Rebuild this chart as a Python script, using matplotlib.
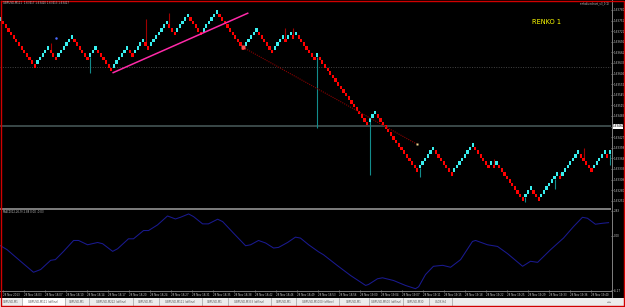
import numpy as np
import matplotlib.pyplot as plt
from matplotlib.patches import Rectangle

W, H = 625, 307
PX = 2.638   # pixels per brick column
LY = 3.6     # pixels per brick level

# renko bricks: first brick is up, then signed run lengths (bricks per leg)
first_dir = 1
runs = [-13, 5, -3, 6, -6, 3, -6, 6, -2, 4, -2, 7, -3, 5, -5, 6, -10, 5, -6, 4,
        -1, 2, -1, 1, -7, 1, -19, 3, -16, 6, -7, 8, -6, 1, -1, 1, -10, 3, -3, 7,
        -1, 7, -5, 5, -1, 1]

# wicks: brick index and level the shadow reaches
wick_idx = [19, 34, 55, 64, 108, 111, 120, 140, 159, 187, 199, 210, 212, 221, 231]
wick_end = [-6.7, -15.0, 0.0, 1.7, -2.5, -2.5, -30.3, -43.3, -43.8, -38.8, -50.8,
            -47.3, -42.9, -35.8, -40.6]

# drawn objects (brick index, level)
trend_x = [42.7, 93.7]
trend_y = [-14.9, 1.6]
proj_x = [92.0, 157.7]
proj_y = [-7.9, -34.7]
grid_level = -13.3
last_level = -29.7

price_labels = ["1.63780", "1.63751", "1.63721", "1.63692", "1.63662", "1.63633",
                "1.63604", "1.63574", "1.63545", "1.63515", "1.63486", "",
                "1.63427", "1.63398", "1.63368", "1.63339", "1.63309", "1.63280",
                "1.63251"]
last_price = "1.63460"

# oscillator in the lower pane
ind_x = [0, 2.5, 7.6, 12.5, 15.2, 19.0, 20.8, 23.9, 27.7, 29.6, 33.0, 36.8, 38.7,
         42.5, 44.4, 48.5, 50.4, 54.2, 56.1, 59.5, 63.3, 66.3, 68.2, 71.3, 73.2,
         76.6, 78.8, 82.3, 84.2, 88.3, 92.9, 94.8, 97.8, 100.5, 103.5, 105.4,
         108.8, 111.8, 113.7, 116.8, 120.5, 122.4, 127.7, 132.7, 138.4, 139.5,
         142.9, 144.8, 149.0, 153.5, 157.3, 158.5, 161.1, 164.1, 167.6, 170.6,
         174.4, 178.9, 180.1, 184.6, 188.4, 192.2, 197.9, 200.9, 203.6, 208.5,
         213.4, 217.2, 220.6, 222.5, 225.5, 228.2, 230.5]
ind_v = [-1.13, -1.58, -2.90, -4.15, -3.84, -2.79, -2.71, -1.77, -0.53, -0.53,
         -1.02, -0.76, -0.90, -1.77, -1.47, -0.34, -0.34, 0.60, 0.60, 1.24, 2.26,
         1.92, 2.11, 2.49, 2.18, 1.36, 1.36, 1.89, 1.62, 0.31, -1.13, -1.02,
         -0.53, -0.82, -1.39, -1.32, -0.76, -0.15, -0.26, -1.02, -1.81, -2.15,
         -3.39, -4.52, -5.65, -5.54, -4.89, -4.78, -5.09, -5.65, -6.02, -5.80,
         -4.41, -3.47, -3.36, -3.58, -2.71, -0.64, -0.53, -1.02, -1.21, -2.03,
         -3.47, -2.90, -3.02, -1.58, -0.26, 1.05, 2.11, 2.00, 1.32, 1.43, 1.50]
ind_ticks = [2.83, 0.00, -6.17]
ind_labels = ["2.83", "0.00", "-6.17"]

time_labels = ["28 Nov 2013", "28 Nov 18:03", "28 Nov 18:07", "28 Nov 18:10",
               "28 Nov 18:14", "28 Nov 18:17", "28 Nov 18:20", "28 Nov 18:24",
               "28 Nov 18:27", "28 Nov 18:31", "28 Nov 18:35", "28 Nov 18:38",
               "28 Nov 18:42", "28 Nov 18:46", "28 Nov 18:49", "28 Nov 18:53",
               "28 Nov 18:56", "28 Nov 19:00", "28 Nov 19:04", "28 Nov 19:07",
               "28 Nov 19:11", "28 Nov 19:15", "28 Nov 19:18", "28 Nov 19:22",
               "28 Nov 19:25", "28 Nov 19:29", "28 Nov 19:33", "28 Nov 19:36",
               "28 Nov 19:40"]

tabs = ["GBPUSD,M1", "GBPUSD,M111 (offline)", "GBPUSD,M1", "GBPUSD,M222 (offline)",
        "GBPUSD,M1", "GBPUSD,M111 (offline)", "GBPUSD,M1", "GBPUSD,M333 (offline)",
        "GBPUSD,M1", "GBPUSD,M1000 (offline)", "GBPUSD,M1", "GBPUSD,M500 (offline)",
        "GBPUSD,M30", "USDX,H4"]
tab_edges = [0, 22, 65, 89, 133, 159, 202, 228, 271, 296, 339, 369, 403, 429, 452]

# build brick levels from the runs
levels = [0]
dirs = [first_dir]
for r in runs:
    s = int(np.sign(r))
    for _ in range(abs(r)):
        levels.append(levels[-1] + s)
        dirs.append(s)
levels = np.array(levels)
dirs = np.array(dirs)
idx = np.arange(len(levels))


def rect(x0, y0, x1, y1):
    return [x0 / W, 1 - y1 / H, (x1 - x0) / W, (y1 - y0) / H]


fig = plt.figure(figsize=(W / 100, H / 100), dpi=100, facecolor='black')
ax = fig.add_axes(rect(0, 4, 611, 207))
ax2 = fig.add_axes(rect(0, 210, 611, 290))
for a in (ax, ax2):
    a.set_facecolor('black')
    a.set_xlim(-0.2, 611 / PX - 0.2)
    for s in a.spines.values():
        s.set_visible(False)
    a.yaxis.tick_right()
    a.tick_params(colors='#c8c8c8', labelsize=2.0, length=1.2, width=0.4, pad=0.8)

# main pane
ax.set_ylim((19 - 207) / LY, (19 - 4) / LY)
up = dirs > 0
for i, e in zip(wick_idx, wick_end):
    if dirs[i] > 0:
        ax.vlines(i, e, levels[i] - 0.46, color='#138c8c', lw=0.8, zorder=1)
    else:
        ax.vlines(i, levels[i] + 0.46, e, color='#a00000', lw=0.8, zorder=1)
ax.bar(idx[up], 0.95, bottom=levels[up] - 0.475, width=0.85, color='#38f0f0',
       linewidth=0, zorder=2)
ax.bar(idx[~up], 0.95, bottom=levels[~up] - 0.475, width=0.85, color='#ff0000',
       linewidth=0, zorder=2)
ax.axhline(grid_level, color='#444444', lw=0.7, ls=(0, (1, 1.5)), zorder=0)
ax.axhline(last_level, color='#3a4848', lw=1.4, zorder=0)
ax.plot(trend_x, trend_y, color='#ff2aa8', lw=1.1, zorder=3)
ax.plot(proj_x, proj_y, color='#8b0000', lw=0.8, ls=(0, (1, 1)), zorder=3)
ax.plot(proj_x[0], proj_y[0], 's', ms=2.2, color='#ff5050', mec='none', zorder=4)
ax.plot(proj_x[-1], proj_y[-1], 's', ms=1.6, color='#f0d890', mec='none', zorder=4)
ax.plot(21.2, -5.3, 'o', ms=1.8, color='#4a6aff', mec='none', zorder=4)

price_pos = [(19 - (10 + k * 10.6)) / LY for k in range(len(price_labels))]
ax.set_yticks(price_pos)
ax.set_yticklabels(price_labels)
ax.set_xticks([])

# oscillator pane
ax2.set_ylim(-6.10, 2.94)
ax2.plot(ind_x, ind_v, color='#1a1a90', lw=0.75)
ax2.set_yticks(ind_ticks)
ax2.set_yticklabels(ind_labels)
ax2.set_xticks([(2 + k * 21) / PX for k in range(len(time_labels))])
ax2.set_xticklabels(time_labels, ha='left', fontsize=1.9)
ax2.tick_params(axis='x', length=1.2, pad=1.2)

# window decorations in pixel space
ov = fig.add_axes([0, 0, 1, 1], zorder=10)
ov.set_xlim(0, W)
ov.set_ylim(H, 0)
ov.axis('off')
ov.patch.set_alpha(0)
ov.add_patch(Rectangle((0, 207.5), 611, 2, color='#7a7a7a', lw=0))
ov.plot([611.5, 611.5], [0, 297], color='#808080', lw=0.7)
ov.plot([0, 611.5], [290.5, 290.5], color='#808080', lw=0.7)
ov.add_patch(Rectangle((611.8, 123.6), 11, 5, color='white', lw=0))
ov.text(612.5, 126.2, last_price, fontsize=2.0, color='black', va='center')
ov.add_patch(Rectangle((0, 297.5), W, 9, color='#ececec', lw=0))
ov.add_patch(Rectangle((tab_edges[1], 297.5), tab_edges[2] - tab_edges[1], 9,
                       color='white', lw=0))
for k, name in enumerate(tabs):
    ov.plot([tab_edges[k + 1]] * 2, [298, 306], color='#a0a0a0', lw=0.5)
    ov.text((tab_edges[k] + tab_edges[k + 1]) / 2, 302, name, fontsize=1.9,
            color='#555555', ha='center', va='center')
ov.text(609, 302, "◂ ▸", fontsize=2.2, color='#555555', ha='center', va='center')
ov.text(3, 2.6, "GBPUSD,M111  1.63417 1.63420 1.63413 1.63417", fontsize=1.9,
        color='#c0c0c0', va='center')
ov.text(610, 3, "renkolivechart_v3_1(1)", fontsize=1.9, color='#c0c0c0',
        ha='right', va='center')
ov.text(3, 212, "MACD(12,26,9) 2.88 0.00 -0.03", fontsize=1.9, color='#c0c0c0',
        va='center')
ov.text(532, 22.5, "RENKO 1", fontsize=4.8, color='#ffff00', va='center')
# red window frame
ov.plot([0.7, 0.7, 624.3, 624.3, 0.7], [0.7, 306.3, 306.3, 0.7, 0.7],
        color='#d00000', lw=1.0)

fig.savefig('out.png', dpi=100, facecolor='black')
